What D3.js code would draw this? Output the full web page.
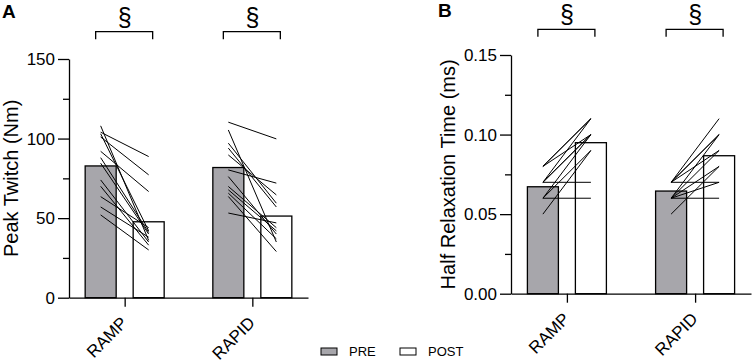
<!DOCTYPE html>
<html>
<head>
<meta charset="utf-8">
<script src="https://cdn.jsdelivr.net/npm/d3@7"></script>
<style>
  html, body { margin: 0; padding: 0; background: #fff; }
  svg { display: block; font-family: "Liberation Sans", Arial, sans-serif; }
  .axis path, .axis line { stroke: #000; stroke-width: 1.3px; }
  .axis text { font-size: 17px; fill: #000; font-family: "Liberation Sans", Arial, sans-serif; }
</style>
</head>
<body>
<svg id="chart" width="754" height="363"></svg>
<script>
const categories = ["RAMP", "RAPID"];
const phases = ["PRE", "POST"];

// group means (bar heights)
const twitchPre = [82.8, 81.8];
const twitchPost = [47.7, 51.3];
const relaxPre = [0.0672, 0.0645];
const relaxPost = [0.0949, 0.0867];

// individual subjects, PRE -> POST
const twitchRampPre = [108, 104, 103, 101, 92, 88, 84.5, 74, 70, 63.5, 57, 52];
const twitchRampPost = [36, 88.7, 42, 77.2, 66.7, 41, 40, 35, 33, 44, 38, 30];
const twitchRapidPre = [110.3, 105.4, 97.1, 94, 89.7, 80.3, 76.1, 69.9, 67.8, 65.7, 63.6, 53.2];
const twitchRapidPost = [99.8, 35, 59.4, 57, 64.6, 72, 40, 44, 42, 37, 29, 47];

const relaxRampPre = [0.05, 0.06, 0.06, 0.06, 0.07, 0.07, 0.07, 0.07, 0.08, 0.08, 0.08];
const relaxRampPost = [0.09, 0.06, 0.10, 0.09, 0.07, 0.11, 0.10, 0.10, 0.11, 0.10, 0.11];
const relaxRapidPre = [0.05, 0.06, 0.06, 0.06, 0.06, 0.06, 0.07, 0.07, 0.07, 0.07, 0.07];
const relaxRapidPost = [0.08, 0.06, 0.09, 0.07, 0.10, 0.08, 0.07, 0.11, 0.10, 0.09, 0.10];

const twitchTicks = [0, 50, 100, 150];
const twitchMinor = [25, 75, 125];
const relaxTicks = [0, 0.05, 0.1, 0.15];
const relaxMinor = [0.025, 0.075, 0.125];

const colors = { PRE: "#a7a6ab", POST: "#ffffff" };

const svg = d3.select("#chart");

const panels = [
  {
    letter: "A", letterX: 2, letterY: 18,
    left: 69, right: 308, top: 59, bottom: 297.7,
    max: 150, ticks: twitchTicks, minor: twitchMinor, format: d3.format("d"),
    label: "Peak Twitch (Nm)", labelX: 18, bracketY: 31.7,
    pre: twitchPre, post: twitchPost,
    subjects: [[twitchRampPre, twitchRampPost], [twitchRapidPre, twitchRapidPost]],
  },
  {
    letter: "B", letterX: 438, letterY: 17,
    left: 511, right: 751, top: 55, bottom: 293.7,
    max: 0.15, ticks: relaxTicks, minor: relaxMinor, format: d3.format(".2f"),
    label: "Half Relaxation Time (ms)", labelX: 455, bracketY: 29.3,
    pre: relaxPre, post: relaxPost,
    subjects: [[relaxRampPre, relaxRampPost], [relaxRapidPre, relaxRapidPost]],
  },
];

panels.forEach(drawPanel);

function drawPanel(p) {
  const g = svg.append("g");

  const x = d3.scalePoint().domain(categories).range([p.left, p.right]).padding(0.436);
  const inner = d3.scaleBand().domain(phases).range([-39.5, 39.5]).paddingInner(0.354);
  const y = d3.scaleLinear().domain([0, p.max]).range([p.bottom, p.top]);
  const bw = inner.bandwidth();

  // bars
  categories.forEach((c, i) => {
    const vals = { PRE: p.pre[i], POST: p.post[i] };
    g.append("g")
      .selectAll("rect")
      .data(phases)
      .join("rect")
      .attr("x", (d) => x(c) + inner(d))
      .attr("y", (d) => y(vals[d]))
      .attr("width", bw)
      .attr("height", (d) => y(0) - y(vals[d]))
      .attr("fill", (d) => colors[d])
      .attr("stroke", "#000")
      .attr("stroke-width", 1.3);
  });

  // subject lines
  categories.forEach((c, i) => {
    const [pre, post] = p.subjects[i];
    const x1 = x(c) + inner("PRE") + bw / 2;
    const x2 = x(c) + inner("POST") + bw / 2;
    g.append("g")
      .selectAll("line")
      .data(d3.range(pre.length))
      .join("line")
      .attr("x1", x1)
      .attr("x2", x2)
      .attr("y1", (j) => y(pre[j]))
      .attr("y2", (j) => y(post[j]))
      .attr("stroke", "#000")
      .attr("stroke-width", 1);
  });

  // y axis
  g.append("g")
    .attr("class", "axis")
    .attr("transform", `translate(${p.left},0)`)
    .call(d3.axisLeft(y).tickValues(p.ticks).tickFormat(p.format).tickSize(11).tickPadding(3).tickSizeOuter(0));
  g.append("g")
    .attr("class", "axis")
    .attr("transform", `translate(${p.left},0)`)
    .call(d3.axisLeft(y).tickValues(p.minor).tickFormat("").tickSize(6))
    .call((a) => a.select(".domain").remove());

  // x axis
  const xa = g.append("g")
    .attr("class", "axis")
    .attr("transform", `translate(0,${p.bottom})`)
    .call(d3.axisBottom(x).tickSize(9).tickSizeOuter(0));
  xa.selectAll(".tick text")
    .attr("x", 0)
    .attr("y", 0)
    .attr("dy", "0.35em")
    .attr("text-anchor", "end")
    .attr("transform", "translate(-1,22) rotate(-45)");

  // y label
  g.append("text")
    .attr("transform", `translate(${p.labelX},${(p.top + p.bottom) / 2}) rotate(-90)`)
    .attr("text-anchor", "middle")
    .attr("font-size", 20)
    .text(p.label);

  // panel letter
  g.append("text")
    .attr("x", p.letterX)
    .attr("y", p.letterY)
    .attr("font-size", 19)
    .attr("font-weight", "bold")
    .text(p.letter);

  // significance brackets
  categories.forEach((c) => {
    const cx = x(c);
    g.append("path")
      .attr("d", `M${cx - 29},${p.bracketY + 7.5}V${p.bracketY}H${cx + 28}V${p.bracketY + 7.5}`)
      .attr("fill", "none")
      .attr("stroke", "#000")
      .attr("stroke-width", 1.3);
    g.append("text")
      .attr("x", cx)
      .attr("y", p.bracketY - 6)
      .attr("text-anchor", "middle")
      .attr("font-size", 25)
      .text("§");
  });
}

// legend
const legend = svg.append("g").attr("transform", "translate(321,348)");
const legendX = d3.scaleOrdinal().domain(phases).range([0, 79]);
const item = legend.selectAll("g").data(phases).join("g")
  .attr("transform", (d) => `translate(${legendX(d)},0)`);
item.append("rect")
  .attr("width", 16)
  .attr("height", 7)
  .attr("fill", (d) => colors[d])
  .attr("stroke", "#000")
  .attr("stroke-width", 1);
item.append("text")
  .attr("x", 28)
  .attr("y", 8)
  .attr("font-size", 13)
  .text((d) => d);
</script>
</body>
</html>
